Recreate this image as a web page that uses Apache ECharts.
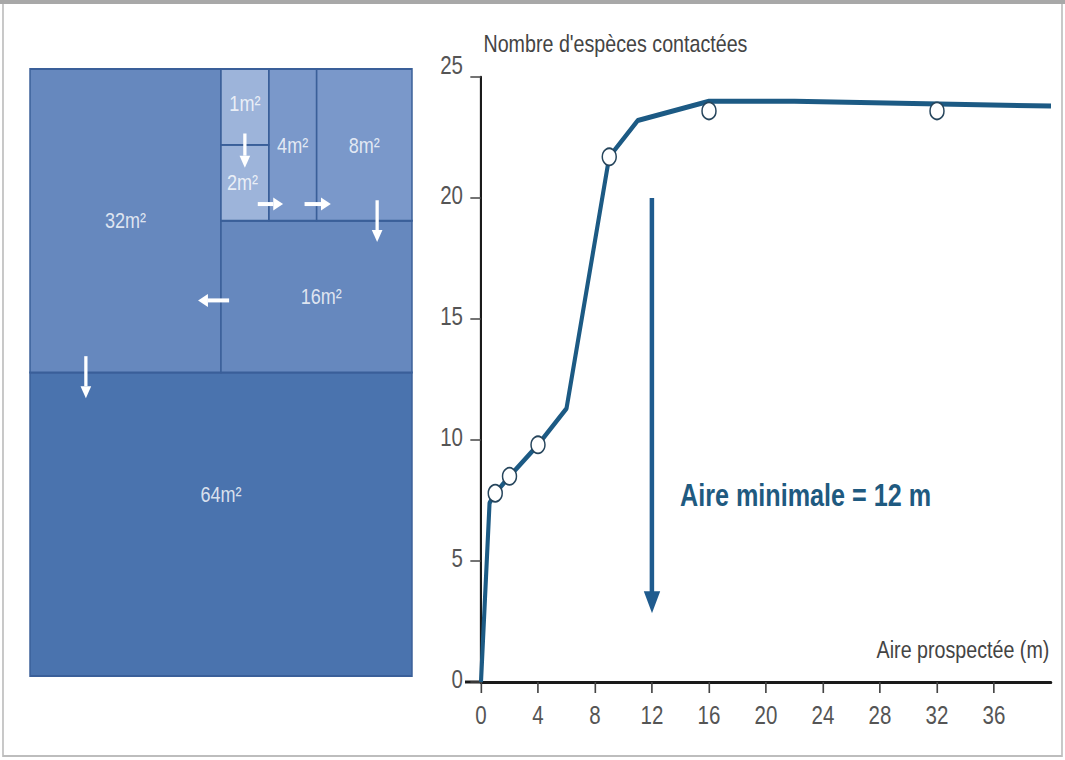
<!DOCTYPE html>
<html>
<head>
<meta charset="utf-8">
<script src="https://cdn.jsdelivr.net/npm/echarts@6/dist/echarts.min.js"></script>
<style>
  html, body { margin: 0; padding: 0; background: #fff; overflow: hidden; }
  /* the original figure is stretched vertically: draw wider, then squeeze */
  #chart { width: 1299px; height: 760px; transform: scaleX(0.82); transform-origin: 0 0; }
</style>
</head>
<body>
<div id="chart"></div>
<script>
// courbe aire-espèces
const aire = [0, 0.6, 1, 2, 4, 6, 9, 11, 16, 22, 40]
const especes = [0, 7.4, 7.8, 8.5, 9.8, 11.3, 21.7, 23.2, 24, 24, 23.8]
// relevés (cercles)
const relevesX = [1, 2, 4, 9, 16, 32]
const relevesY = [7.8, 8.5, 9.8, 21.7, 23.6, 23.6]
const xTicks = [0, 4, 8, 12, 16, 20, 24, 28, 32, 36]
const yTicks = [0, 5, 10, 15, 20, 25]
const aireMinimale = 12

// schéma des placettes (unités : 8 x 16)
const zoneNames = ['64m²', '32m²', '16m²', '8m²', '4m²', '2m²', '1m²']
const zoneX0 = [0, 0, 4, 6, 5, 4, 4]
const zoneY0 = [8, 0, 4, 0, 0, 2, 0]
const zoneX1 = [8, 4, 8, 8, 6, 5, 5]
const zoneY1 = [16, 8, 8, 4, 4, 4, 2]
const labelX = [4.0, 2.0, 6.1, 7.0, 5.5, 4.45, 4.5]
const labelY = [11.2, 4.0, 6.0, 2.0, 2.0, 3.0, 0.9]
const arrowX0 = [4.5, 4.77, 5.75, 7.27, 4.17, 1.17]
const arrowY0 = [1.7, 3.56, 3.56, 3.46, 6.1, 7.57]
const arrowX1 = [4.5, 5.3, 6.3, 7.27, 3.52, 1.17]
const arrowY1 = [2.6, 3.56, 3.56, 4.56, 6.1, 8.68]

const zoneColors = ['#4a73ae', '#6688be', '#6688be', '#7a98ca', '#7a98ca', '#9db4da', '#9db4da']
const font = "'Liberation Sans', Arial, sans-serif"
const SX = 0.82
function px(x) {
  return x / SX
}

const chart = echarts.init(document.getElementById('chart'), null, { renderer: 'svg' })

function renderZone(params, api) {
  const p0 = api.coord([api.value(0), api.value(1)])
  const p1 = api.coord([api.value(2), api.value(3)])
  return {
    type: 'rect',
    shape: {
      x: Math.min(p0[0], p1[0]),
      y: Math.min(p0[1], p1[1]),
      width: Math.abs(p1[0] - p0[0]),
      height: Math.abs(p1[1] - p0[1])
    },
    style: { fill: zoneColors[params.dataIndex], stroke: '#3a5f99', lineWidth: 1.8 }
  }
}

function renderArrow(params, api) {
  const p0 = api.coord([api.value(0), api.value(1)])
  const p1 = api.coord([api.value(2), api.value(3)])
  const dx = p1[0] - p0[0]
  const dy = p1[1] - p0[1]
  const len = Math.sqrt(dx * dx + dy * dy)
  const ux = dx / len
  const uy = dy / len
  const head = 12
  const half = 6.5
  const bx = p1[0] - ux * head
  const by = p1[1] - uy * head
  return {
    type: 'group',
    children: [
      {
        type: 'line',
        shape: { x1: p0[0], y1: p0[1], x2: bx, y2: by },
        style: { stroke: '#ffffff', lineWidth: 4 }
      },
      {
        type: 'polygon',
        shape: {
          points: [
            [p1[0], p1[1]],
            [bx - uy * half, by + ux * half],
            [bx + uy * half, by - ux * half]
          ]
        },
        style: { fill: '#ffffff' }
      }
    ]
  }
}

const zoneData = zoneNames.map((n, i) => [zoneX0[i], zoneY0[i], zoneX1[i], zoneY1[i]])
const labelData = zoneNames.map((n, i) => ({ name: n, value: [labelX[i], labelY[i]] }))
const arrowData = arrowX0.map((v, i) => [arrowX0[i], arrowY0[i], arrowX1[i], arrowY1[i]])

chart.setOption({
  animation: false,
  backgroundColor: '#ffffff',
  textStyle: { fontFamily: font },
  grid: [
    { left: px(481), top: 77, width: px(570), height: 605 },
    { left: px(30), top: 69, width: px(382), height: 607 }
  ],
  xAxis: [
    {
      gridIndex: 0,
      type: 'value',
      min: 0,
      max: 40,
      interval: 4,
      name: 'Aire prospectée (m)',
      nameLocation: 'end',
      nameGap: -2,
      nameTextStyle: {
        fontFamily: font,
        fontSize: 24,
        color: '#444',
        align: 'right',
        verticalAlign: 'bottom',
        padding: [0, 0, 20, 0]
      },
      axisLine: { lineStyle: { color: '#1a1a1a', width: 3 } },
      axisTick: { length: 11, customValues: xTicks, lineStyle: { color: '#444', width: 2 } },
      axisLabel: {
        fontFamily: font,
        fontSize: 25,
        color: '#555',
        margin: 21,
        customValues: xTicks
      },
      splitLine: { show: false }
    },
    { gridIndex: 1, type: 'value', min: 0, max: 8, show: false }
  ],
  yAxis: [
    {
      gridIndex: 0,
      type: 'value',
      min: 0,
      max: 25,
      interval: 5,
      name: "Nombre d'espèces contactées",
      nameLocation: 'end',
      nameGap: 21,
      nameTextStyle: {
        fontFamily: font,
        fontSize: 24,
        color: '#444',
        align: 'left',
        padding: [0, 0, 0, 3]
      },
      axisLine: { show: true, lineStyle: { color: '#1a1a1a', width: 2.6 } },
      axisTick: { show: true, length: 13, customValues: yTicks, lineStyle: { color: '#444', width: 1.5 } },
      axisLabel: {
        fontFamily: font,
        fontSize: 25,
        color: '#555',
        margin: 22,
        customValues: yTicks,
        formatter: v => (v === 25 ? '{top|25}' : String(v)),
        padding: [0, 0, 5, 0],
        rich: { top: { fontSize: 25, color: '#555', padding: [0, 0, 18, 0] } }
      },
      splitLine: { show: false }
    },
    { gridIndex: 1, type: 'value', min: 0, max: 16, inverse: true, show: false }
  ],
  series: [
    {
      type: 'custom',
      xAxisIndex: 1,
      yAxisIndex: 1,
      renderItem: renderZone,
      data: zoneData,
      z: 1
    },
    {
      type: 'custom',
      xAxisIndex: 1,
      yAxisIndex: 1,
      renderItem: renderArrow,
      data: arrowData,
      z: 3
    },
    {
      type: 'scatter',
      xAxisIndex: 1,
      yAxisIndex: 1,
      symbolSize: 0,
      data: labelData,
      z: 4,
      label: {
        show: true,
        position: 'inside',
        formatter: '{b}',
        fontFamily: font,
        fontSize: 22,
        color: '#ffffff'
      }
    },
    {
      name: 'courbe',
      type: 'line',
      data: aire.map((x, i) => [x, especes[i]]),
      showSymbol: false,
      lineStyle: { color: '#1c5a84', width: 5 },
      z: 3,
      markLine: {
        silent: true,
        symbol: ['none', 'triangle'],
        symbolSize: [20, 22],
        lineStyle: { color: '#1f5b8e', width: 5.5, type: 'solid' },
        label: { show: false },
        data: [[{ coord: [aireMinimale, 20] }, { coord: [aireMinimale, 3.3] }]]
      }
    },
    {
      type: 'scatter',
      data: relevesX.map((x, i) => [x, relevesY[i]]),
      symbol: 'circle',
      symbolSize: 17,
      itemStyle: { color: '#ffffff', opacity: 1, borderColor: '#26455c', borderWidth: 1.8 },
      z: 5
    }
  ],
  graphic: [
    {
      type: 'rect',
      shape: { x: px(3), y: 3, width: px(1059), height: 753 },
      style: { fill: 'none', stroke: '#bdbdbd', lineWidth: 2 }
    },
    {
      type: 'rect',
      shape: { x: 0, y: 0, width: px(1065), height: 4 },
      style: { fill: '#a8a8a8' }
    },
    {
      type: 'line',
      shape: { x1: px(465), y1: 682, x2: px(481), y2: 682 },
      style: { stroke: '#1a1a1a', lineWidth: 3 }
    },
    {
      type: 'text',
      left: px(680),
      top: 479,
      scaleX: 0.96,
      style: {
        text: 'Aire minimale = 12 m',
        fontFamily: font,
        fontWeight: 'bold',
        fontSize: 32,
        fill: '#1f5a80'
      }
    }
  ]
})
</script>
</body>
</html>
